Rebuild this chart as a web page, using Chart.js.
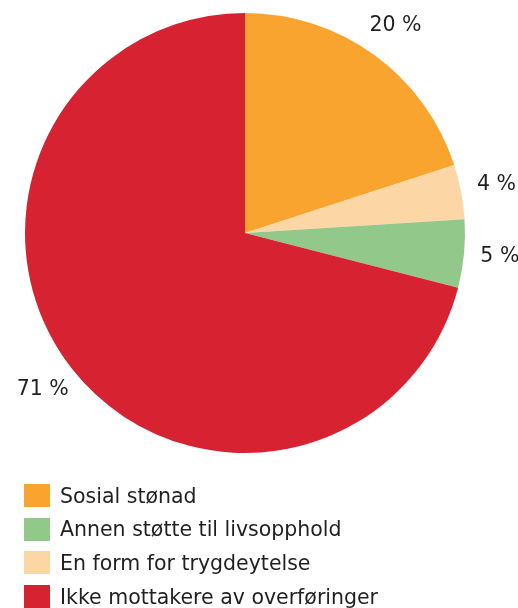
<!DOCTYPE html>
<html>
<head>
<meta charset="utf-8">
<script src="https://cdn.jsdelivr.net/npm/chart.js@4/dist/chart.umd.min.js"></script>
<style>
  html, body { margin: 0; padding: 0; background: #fff; }
  #wrap { position: relative; width: 518px; height: 608px; overflow: hidden; }
  #legend { position: absolute; left: 0; top: 0; width: 518px; height: 608px; pointer-events: none; }
  .row { position: absolute; left: 24px; height: 23px; display: flex; align-items: center;
         font-family: "DejaVu Sans", Verdana, sans-serif; font-size: 20.5px; color: #231f20; white-space: nowrap; }
  .box { width: 26px; height: 23px; margin-right: 10px; flex: none; }
</style>
</head>
<body>
<div id="wrap">
  <canvas id="c"></canvas>
  <div id="legend"></div>
</div>
<script>
// Data (pie order, clockwise from top)
const categories = ["Sosial stønad", "En form for trygdeytelse", "Annen støtte til livsopphold", "Ikke mottakere av overføringer"];
const values = [20, 4, 5, 71];
const valueLabels = ["20 %", "4 %", "5 %", "71 %"];
const colors = ["#F8A42F", "#FCD6A5", "#93C88B", "#D72231"];
// Legend order (indices into categories)
const legendOrder = [0, 2, 1, 3];

const outsideLabels = {
  id: 'outsideLabels',
  afterDatasetsDraw(chart) {
    const ctx = chart.ctx;
    const meta = chart.getDatasetMeta(0);
    ctx.save();
    ctx.font = '20.5px "DejaVu Sans", Verdana, sans-serif';
    ctx.fillStyle = '#231f20';
    ctx.textAlign = 'center';
    ctx.textBaseline = 'middle';
    meta.data.forEach((arc, i) => {
      const p = arc.getProps(['x', 'y', 'startAngle', 'endAngle', 'outerRadius'], true);
      const mid = (p.startAngle + p.endAngle) / 2;
      const r = p.outerRadius + 36;
      ctx.fillText(valueLabels[i], p.x + Math.cos(mid) * r, p.y + Math.sin(mid) * r);
    });
    ctx.restore();
  }
};

new Chart(document.getElementById('c'), {
  type: 'pie',
  data: {
    labels: categories,
    datasets: [{ data: values, backgroundColor: colors, borderWidth: 0 }]
  },
  options: {
    responsive: true,
    maintainAspectRatio: false,
    animation: false,
    layout: { padding: { left: 25, top: 13, right: 53, bottom: 155 } },
    plugins: { legend: { display: false }, tooltip: { enabled: false } }
  },
  plugins: [outsideLabels]
});

const legendEl = document.getElementById('legend');
legendOrder.forEach((idx, k) => {
  const row = document.createElement('div');
  row.className = 'row';
  row.style.top = (484 + k * 33.7) + 'px';
  const box = document.createElement('div');
  box.className = 'box';
  box.style.background = colors[idx];
  const txt = document.createElement('span');
  txt.textContent = categories[idx];
  row.appendChild(box);
  row.appendChild(txt);
  legendEl.appendChild(row);
});
</script>
</body>
</html>
